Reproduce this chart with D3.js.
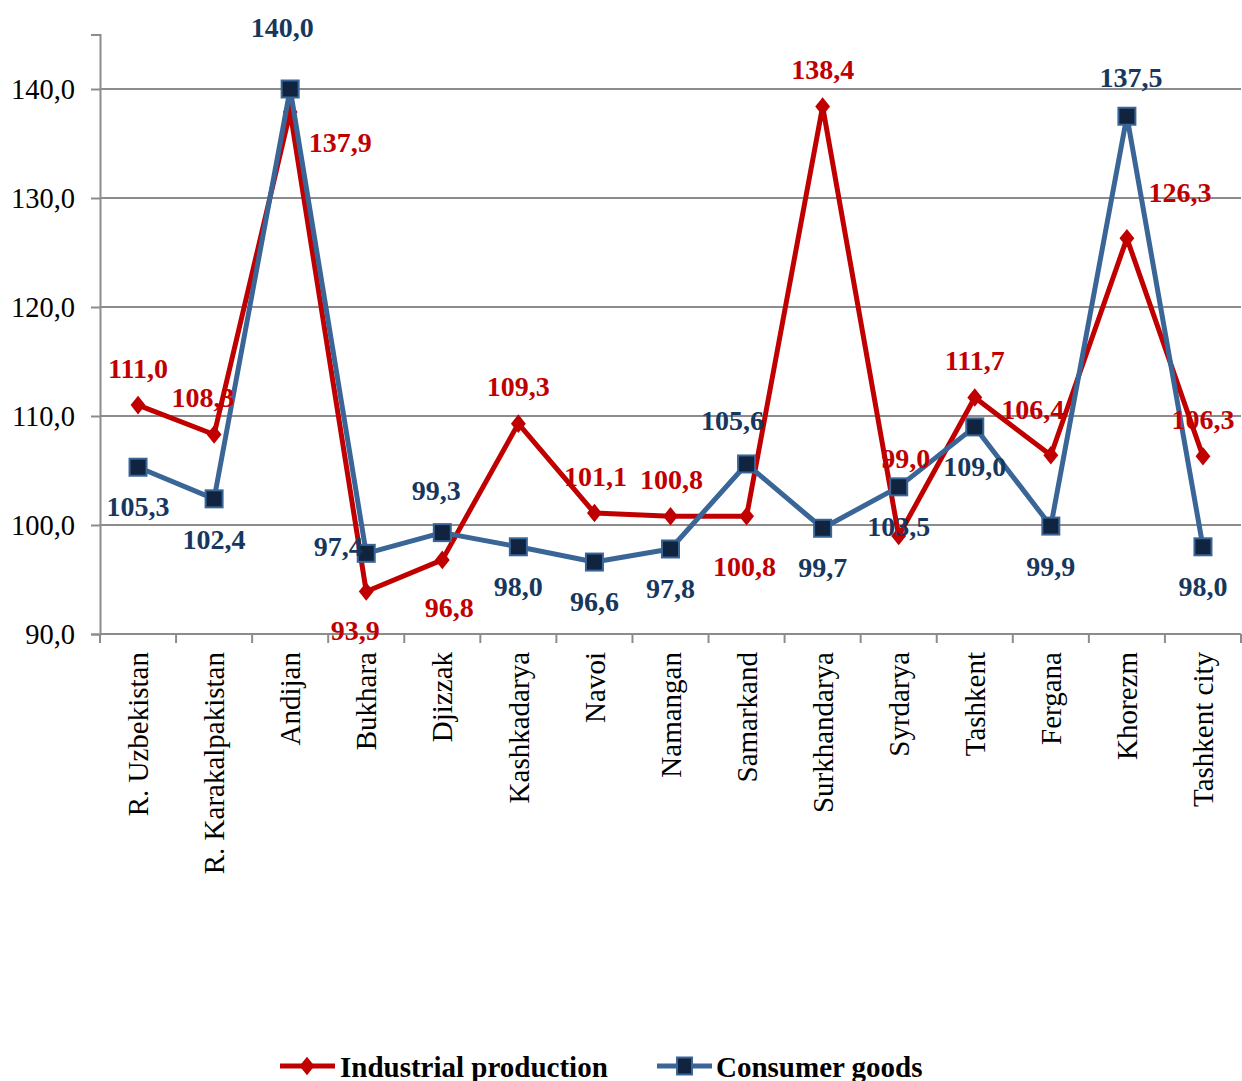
<!DOCTYPE html>
<html>
<head>
<meta charset="utf-8">
<script src="https://cdn.jsdelivr.net/npm/d3@7"></script>
<style>
  body { margin: 0; background: #fff; }
  svg { display: block; font-family: "Liberation Serif", "Times New Roman", serif; }
</style>
</head>
<body>
<div id="chart"></div>
<script>
// data
const regions = ["R. Uzbekistan", "R. Karakalpakistan", "Andijan", "Bukhara", "Djizzak", "Kashkadarya",
  "Navoi", "Namangan", "Samarkand", "Surkhandarya", "Syrdarya", "Tashkent", "Fergana", "Khorezm", "Tashkent city"];
const industrial = [111.0, 108.3, 137.9, 93.9, 96.8, 109.3, 101.1, 100.8, 100.8, 138.4, 99.0, 111.7, 106.4, 126.3, 106.3];
const consumer = [105.3, 102.4, 140.0, 97.4, 99.3, 98.0, 96.6, 97.8, 105.6, 99.7, 103.5, 109.0, 99.9, 137.5, 98.0];
const yTicks = [90, 100, 110, 120, 130, 140];

// label placement (label centre relative to point)
const indOffsets = [[0,-37],[-11,-37],[50,30],[-11,39],[7,47],[0,-37],[1,-37],[1,-37],[-2,50],[0,-37],[7,-78],[0,-37],[-18,-46],[53,-46],[0,-37]];
const conOffsets = [[0,39],[0,40],[-8,-62],[-28,-7],[-6,-42],[0,39],[0,39],[0,39],[-14,-44],[0,39],[0,39],[0,39],[0,40],[4,-39],[0,39]];

const W = 1242, H = 1081;
const mLeft = 100, mRight = 1241, mTop = 34.5, mBottom = 634;

const RED = "#C00000", BLUE = "#3A6597", NAVY = "#10243F", LBLUE = "#17375E", GRID = "#8C8C8C";
const fmt = v => v.toFixed(1).replace(".", ",");

const svg = d3.select("#chart").append("svg").attr("width", W).attr("height", H);

const x = d3.scaleBand().domain(regions).range([mLeft, mRight]);
const y = d3.scaleLinear().domain([90, 145]).range([mBottom, mTop]);
const cx = d => x(d) + x.bandwidth() / 2;

// gridlines
svg.append("g")
  .selectAll("line")
  .data(yTicks.filter(t => t > 90))
  .join("line")
  .attr("x1", mLeft).attr("x2", mRight)
  .attr("y1", d => y(d)).attr("y2", d => y(d))
  .attr("stroke", GRID).attr("stroke-width", 2);

// y axis
const yAxis = svg.append("g")
  .attr("transform", `translate(${mLeft},0)`)
  .call(d3.axisLeft(y).tickValues(yTicks).tickSize(9).tickPadding(16).tickFormat(fmt));
yAxis.select(".domain").attr("stroke", GRID).attr("stroke-width", 2);
yAxis.selectAll(".tick line").attr("stroke", GRID).attr("stroke-width", 2);
yAxis.selectAll(".tick text").attr("font-size", 28.5).attr("fill", "#000")
  .attr("font-family", "Liberation Serif, serif");

// x axis
svg.append("line")
  .attr("x1", mLeft).attr("x2", mRight).attr("y1", mBottom).attr("y2", mBottom)
  .attr("stroke", GRID).attr("stroke-width", 2);
svg.append("g")
  .selectAll("line")
  .data(regions.concat([null]))
  .join("line")
  .attr("x1", (d, i) => mLeft + i * x.bandwidth())
  .attr("x2", (d, i) => mLeft + i * x.bandwidth())
  .attr("y1", mBottom).attr("y2", mBottom + 9)
  .attr("stroke", GRID).attr("stroke-width", 2);
svg.append("g")
  .selectAll("text")
  .data(regions)
  .join("text")
  .attr("transform", d => `translate(${cx(d)},${mBottom + 18}) rotate(-90)`)
  .attr("text-anchor", "end")
  .attr("dy", "0.35em")
  .attr("font-size", 29)
  .attr("fill", "#000")
  .text(d => d);

// lines
const line = d3.line().x((d, i) => cx(regions[i])).y(d => y(d));

svg.append("path").datum(industrial)
  .attr("d", line).attr("fill", "none")
  .attr("stroke", RED).attr("stroke-width", 5).attr("stroke-linejoin", "round");
svg.append("g").selectAll("path")
  .data(industrial).join("path")
  .attr("d", d3.symbol(d3.symbolDiamond2, 220))
  .attr("transform", (d, i) => `translate(${cx(regions[i])},${y(d)}) scale(0.8,1)`)
  .attr("fill", RED);

svg.append("path").datum(consumer)
  .attr("d", line).attr("fill", "none")
  .attr("stroke", BLUE).attr("stroke-width", 5).attr("stroke-linejoin", "round");
svg.append("g").selectAll("rect")
  .data(consumer).join("rect")
  .attr("x", (d, i) => cx(regions[i]) - 8.5)
  .attr("y", d => y(d) - 8.5)
  .attr("width", 17).attr("height", 17)
  .attr("fill", NAVY).attr("stroke", BLUE).attr("stroke-width", 2);

// value labels
function labels(values, offsets, color) {
  svg.append("g").selectAll("text")
    .data(values).join("text")
    .attr("x", (d, i) => cx(regions[i]) + offsets[i][0])
    .attr("y", (d, i) => y(d) + offsets[i][1])
    .attr("dy", "0.35em")
    .attr("text-anchor", "middle")
    .attr("font-size", 28)
    .attr("font-weight", "bold")
    .attr("fill", color)
    .text(fmt);
}
labels(industrial, indOffsets, RED);
labels(consumer, conOffsets, LBLUE);

// legend
const legend = svg.append("g").attr("transform", "translate(0,1066)");
legend.append("line").attr("x1", 280).attr("x2", 335).attr("stroke", RED).attr("stroke-width", 5);
legend.append("path").attr("d", d3.symbol(d3.symbolDiamond2, 220))
  .attr("transform", "translate(307,0) scale(0.8,1)").attr("fill", RED);
legend.append("text").attr("x", 340).attr("y", 11).attr("font-size", 29).attr("font-weight", "bold")
  .attr("fill", "#000").text("Industrial production");
legend.append("line").attr("x1", 657).attr("x2", 712).attr("stroke", BLUE).attr("stroke-width", 5);
legend.append("rect").attr("x", 677).attr("y", -8.5).attr("width", 15).attr("height", 17)
  .attr("fill", NAVY).attr("stroke", BLUE).attr("stroke-width", 2);
legend.append("text").attr("x", 716).attr("y", 11).attr("font-size", 29).attr("font-weight", "bold")
  .attr("fill", "#000").text("Consumer goods");
</script>
</body>
</html>
